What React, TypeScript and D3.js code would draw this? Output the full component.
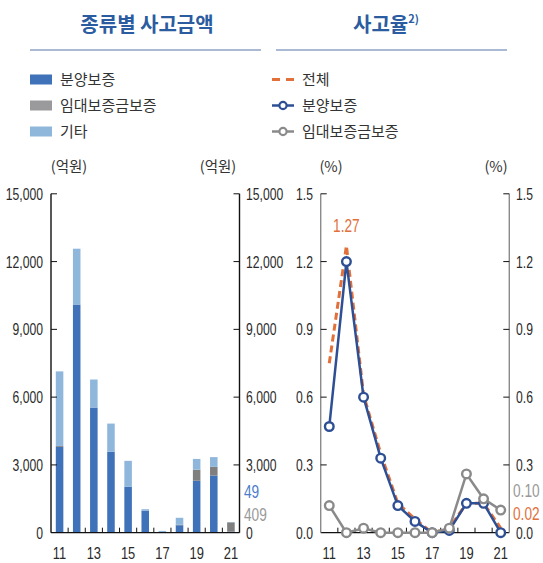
import React from "react";
import * as d3 from "d3";

// Years (20xx) shown on both panels
const years = ["11", "12", "13", "14", "15", "16", "17", "18", "19", "20", "21"];
const yearTickLabels = ["11", "13", "15", "17", "19", "21"];

// Accident amounts by type (100 million KRW)
const presaleAmount = [3800, 10100, 5540, 3580, 2030, 980, 0, 330, 2300, 2530, 49];
const rentalAmount = [40, 0, 0, 0, 0, 0, 0, 20, 490, 385, 409];
const otherAmount = [3300, 2470, 1240, 1250, 1150, 60, 80, 310, 475, 430, 15];
const amountTicks = [0, 3000, 6000, 9000, 12000, 15000];

// Accident rates (%)
const totalRate = [0.75, 1.27, 0.61, 0.35, 0.13, 0.06, 0.0, 0.02, 0.13, 0.13, 0.02];
const presaleRate = [0.47, 1.2, 0.6, 0.33, 0.12, 0.05, 0.0, 0.01, 0.13, 0.13, 0.0];
const rentalRate = [0.12, 0.0, 0.02, 0.0, 0.0, 0.0, 0.0, 0.02, 0.26, 0.15, 0.1];
const rateTicks = [0, 0.3, 0.6, 0.9, 1.2, 1.5];

const seriesNames = ["분양보증", "임대보증금보증", "기타"];
const rateNames = ["전체", "분양보증", "임대보증금보증"];

const KR = "'Noto Sans CJK KR', 'Noto Sans', sans-serif";
const NUM = "'Liberation Sans', Arial, sans-serif";

const C_PRESALE = "#3f72b9";
const C_RENTAL = "#7f7f7f";
const C_RENTAL_LEG = "#9a9a9c";
const C_OTHER = "#8fb7dc";
const C_LINE_BLUE = "#2e4f93";
const C_LINE_GRAY = "#8a8a8a";
const C_ORANGE = "#e2703b";
const C_TITLE = "#2b5c9f";

const TOP = 193.8;
const BOTTOM = 532.7;

// Condensed numeric label: regular sans squeezed horizontally
function Num({
  x,
  y,
  anchor = "start",
  size = 16,
  fill = "#2a2a2a",
  children,
}: {
  x: number;
  y: number;
  anchor?: "start" | "middle" | "end";
  size?: number;
  fill?: string;
  children: React.ReactNode;
}) {
  return (
    <text
      transform={`translate(${x},${y}) scale(0.76,1)`}
      textAnchor={anchor}
      fontFamily={NUM}
      fontSize={size}
      fill={fill}
    >
      {children}
    </text>
  );
}

export default function App() {
  // Left panel scales
  const xL = d3.scaleBand<string>().domain(years).range([51, 239.5]).padding(0);
  const yL = d3.scaleLinear().domain([0, 15000]).range([BOTTOM, TOP]);
  const barW = xL.bandwidth() * 0.44;

  // Right panel scales
  const xR = d3.scaleBand<string>().domain(years).range([320.7, 509.3]).padding(0);
  const yR = d3.scaleLinear().domain([0, 1.5]).range([BOTTOM, TOP]);
  const cx = (y: string) => (xR(y) as number) + xR.bandwidth() / 2;

  const layers = [presaleAmount, rentalAmount, otherAmount];
  const stack = d3
    .stack<number>()
    .keys([0, 1, 2] as any)
    .value((i: number, k: any) => layers[k][i]);
  const stacked = stack(years.map((_, i) => i) as any);
  const barColors = [C_PRESALE, C_RENTAL, C_OTHER];

  const fmtAmt = d3.format(",");
  const fmtRate = d3.format(".1f");

  const line = (vals: number[]) =>
    d3
      .line<number>()
      .x((_, i) => cx(years[i]))
      .y((v) => yR(v))(vals) as string;

  const xAxis = (x: d3.ScaleBand<string>, left: number, right: number, color: string) => (
    <g>
      <line x1={left} x2={right} y1={BOTTOM} y2={BOTTOM} stroke="#111" strokeWidth={1.3} />
      {years.slice(1).map((y) => (
        <line key={y} x1={x(y)} x2={x(y)} y1={BOTTOM} y2={BOTTOM - 5} stroke="#111" strokeWidth={1} />
      ))}
      {yearTickLabels.map((y) => (
        <Num key={y} x={(x(y) as number) + x.bandwidth() / 2} y={BOTTOM + 26} anchor="middle" size={17}>
          {y}
        </Num>
      ))}
      <line x1={left} x2={left} y1={TOP} y2={BOTTOM} stroke={color} strokeWidth={1.4} />
      <line x1={right} x2={right} y1={TOP} y2={BOTTOM} stroke={color} strokeWidth={1.4} />
    </g>
  );

  return (
    <svg width={543} height={563} style={{ position: "absolute", left: 0, top: 0, background: "#fff" }}>
      {/* Titles */}
      <text x={147} y={32} textAnchor="middle" fontFamily={KR} fontWeight={700} fontSize={20} fill={C_TITLE}>
        종류별 사고금액
      </text>
      <text x={386} y={32} textAnchor="middle" fontFamily={KR} fontWeight={700} fontSize={20} fill={C_TITLE}>
        사고율
        <tspan fontSize={11} dy={-9}>
          2)
        </tspan>
      </text>
      <line x1={30} x2={261} y1={50} y2={50} stroke="#8ea3c7" strokeWidth={1.5} />
      <line x1={276} x2={507} y1={50} y2={50} stroke="#8ea3c7" strokeWidth={1.5} />

      {/* Left legend */}
      {seriesNames.map((n, i) => (
        <g key={n} transform={`translate(0, ${79.5 + i * 26})`}>
          <rect x={30} y={-5} width={22} height={10} fill={[C_PRESALE, C_RENTAL_LEG, C_OTHER][i]} />
          <text x={60} y={5.5} fontFamily={KR} fontSize={15} fill="#333">
            {n}
          </text>
        </g>
      ))}

      {/* Right legend */}
      {rateNames.map((n, i) => (
        <g key={n} transform={`translate(0, ${79.5 + i * 26})`}>
          {i === 0 ? (
            <line x1={272} x2={294} y1={0} y2={0} stroke={C_ORANGE} strokeWidth={3} strokeDasharray="8,6" />
          ) : (
            <g>
              <line x1={272} x2={294} y1={0} y2={0} stroke={i === 1 ? C_LINE_BLUE : C_LINE_GRAY} strokeWidth={2.5} />
              <circle cx={283} cy={0} r={3.6} fill="#fff" stroke={i === 1 ? C_LINE_BLUE : C_LINE_GRAY} strokeWidth={2.2} />
            </g>
          )}
          <text x={302} y={5.5} fontFamily={KR} fontSize={15} fill="#333">
            {n}
          </text>
        </g>
      ))}

      {/* Left panel: unit labels */}
      <text x={69} y={172} textAnchor="middle" fontFamily={KR} fontSize={14.5} fill="#333">
        (억원)
      </text>
      <text x={218} y={172} textAnchor="middle" fontFamily={KR} fontSize={14.5} fill="#333">
        (억원)
      </text>

      {/* Stacked bars */}
      {stacked.map((layer, k) =>
        layer.map((d, i) => {
          const h = yL(d[0]) - yL(d[1]);
          if (h <= 0) return null;
          return (
            <rect
              key={`${k}-${i}`}
              x={(xL(years[i]) as number) + (xL.bandwidth() - barW) / 2}
              y={yL(d[1])}
              width={barW}
              height={h}
              fill={barColors[k]}
            />
          );
        })
      )}

      {xAxis(xL, 51, 239.5, "#111")}
      {amountTicks.map((t) => (
        <g key={t}>
          {t > 0 && <line x1={51} x2={57} y1={yL(t)} y2={yL(t)} stroke="#111" strokeWidth={1} />}
          {t > 0 && <line x1={233.5} x2={239.5} y1={yL(t)} y2={yL(t)} stroke="#111" strokeWidth={1} />}
          <Num x={43} y={yL(t) + 6} anchor="end">
            {fmtAmt(t)}
          </Num>
          <Num x={246} y={yL(t) + 6}>
            {fmtAmt(t)}
          </Num>
        </g>
      ))}
      <Num x={244} y={498} size={18} fill="#4a7ccb">
        {presaleAmount[10]}
      </Num>
      <Num x={244} y={521} size={18} fill="#999">
        {rentalAmount[10]}
      </Num>

      {/* Right panel: unit labels */}
      <text x={331} y={172} textAnchor="middle" fontFamily={KR} fontSize={14.5} fill="#333">
        (%)
      </text>
      <text x={496} y={172} textAnchor="middle" fontFamily={KR} fontSize={14.5} fill="#333">
        (%)
      </text>

      {xAxis(xR, 320.7, 509.3, "#8a8a8a")}
      {rateTicks.map((t) => (
        <g key={t}>
          {t > 0 && <line x1={320.7} x2={326.7} y1={yR(t)} y2={yR(t)} stroke="#111" strokeWidth={1} />}
          {t > 0 && <line x1={503.3} x2={509.3} y1={yR(t)} y2={yR(t)} stroke="#111" strokeWidth={1} />}
          <Num x={313} y={yR(t) + 6} anchor="end">
            {fmtRate(t)}
          </Num>
          <Num x={516} y={yR(t) + 6}>
            {fmtRate(t)}
          </Num>
        </g>
      ))}

      {/* Rate lines */}
      <path d={line(totalRate)} fill="none" stroke={C_ORANGE} strokeWidth={3} strokeDasharray="7,4" />
      <path d={line(presaleRate)} fill="none" stroke={C_LINE_BLUE} strokeWidth={2.5} />
      {presaleRate.map((v, i) => (
        <circle key={`b${i}`} cx={cx(years[i])} cy={yR(v)} r={4.3} fill="#fff" stroke={C_LINE_BLUE} strokeWidth={2.4} />
      ))}
      <path d={line(rentalRate)} fill="none" stroke={C_LINE_GRAY} strokeWidth={2.5} />
      {rentalRate.map((v, i) => (
        <circle key={`g${i}`} cx={cx(years[i])} cy={yR(v)} r={4.3} fill="#fff" stroke={C_LINE_GRAY} strokeWidth={2.4} />
      ))}

      <Num x={cx("12")} y={yR(totalRate[1]) - 14} anchor="middle" size={18} fill={C_ORANGE}>
        {totalRate[1].toFixed(2)}
      </Num>
      <Num x={513} y={497} size={18} fill="#999">
        {rentalRate[10].toFixed(2)}
      </Num>
      <Num x={513} y={520} size={18} fill={C_ORANGE}>
        {totalRate[10].toFixed(2)}
      </Num>
    </svg>
  );
}
